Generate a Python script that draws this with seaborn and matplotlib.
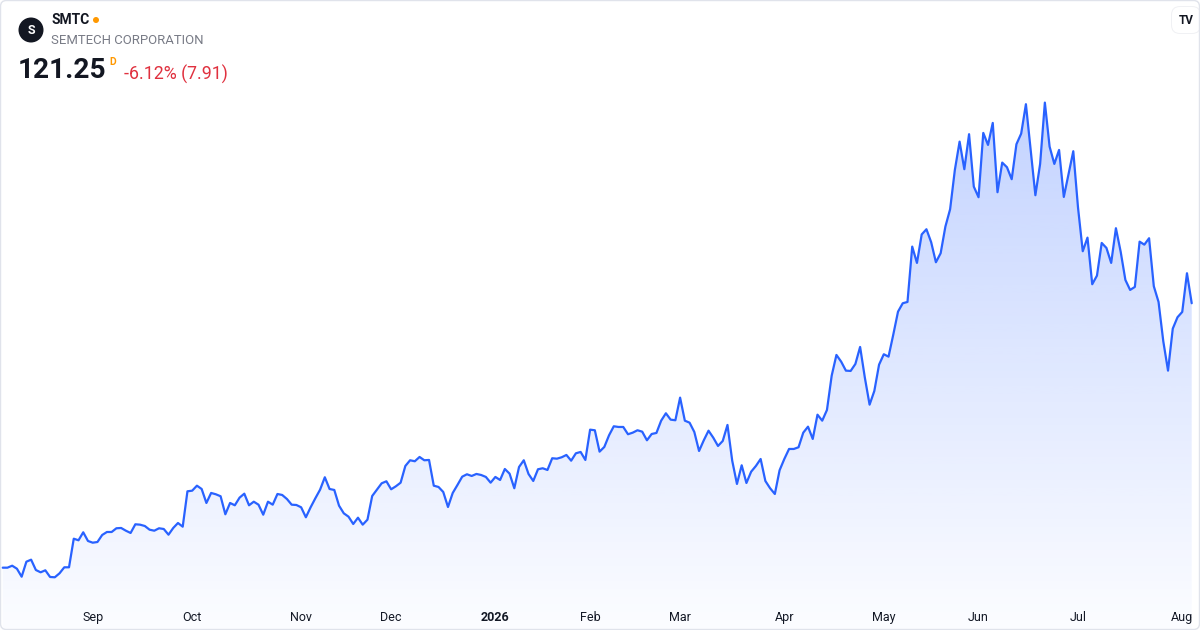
import numpy as np
import pandas as pd
import matplotlib.pyplot as plt
import seaborn as sns
from matplotlib.patches import Circle, FancyBboxPatch, Polygon
from matplotlib.transforms import IdentityTransform

# daily closes, 5 Aug 2025 -> 5 Aug 2026
closes = [
    51.53, 51.53, 52.05, 51.26, 49.15, 53.11, 53.64, 50.92, 50.31, 50.84,
    49.08, 49.00, 50.05, 51.63, 51.63, 59.17, 58.75, 60.86, 58.57, 58.12,
    58.30, 60.15, 60.94, 60.94, 61.92, 62.00, 61.28, 60.68, 62.97, 62.87,
    62.52, 61.55, 61.28, 61.92, 61.73, 60.23, 62.00, 63.31, 62.34, 71.67,
    71.83, 73.15, 72.28, 68.59, 71.23, 70.88, 70.36, 65.61, 68.59, 67.98,
    69.99, 71.04, 67.98, 68.93, 68.14, 65.50, 68.93, 68.14, 70.96, 70.70,
    69.64, 68.14, 68.06, 67.45, 64.82, 67.45, 69.83, 72.10, 75.37, 72.28,
    72.02, 67.88, 65.87, 64.98, 63.05, 64.71, 62.87, 64.19, 70.43, 72.10,
    73.78, 74.31, 72.20, 72.99, 73.94, 78.35, 79.85, 79.59, 80.72, 79.85,
    79.93, 73.15, 72.81, 71.49, 67.53, 71.23, 73.34, 75.52, 76.16, 75.71,
    76.24, 75.97, 75.45, 73.94, 75.45, 74.65, 77.55, 76.32, 72.47, 78.08,
    79.85, 76.24, 74.39, 77.48, 77.74, 77.29, 80.38, 80.27, 80.64, 81.25,
    79.74, 81.69, 82.04, 79.93, 87.92, 87.76, 82.12, 83.36, 86.44, 88.81,
    88.63, 88.63, 86.71, 87.13, 87.76, 87.39, 85.12, 86.78, 87.05, 90.29,
    92.24, 90.56, 90.40, 96.36, 90.29, 89.76, 87.31, 82.30, 85.12, 87.65,
    85.81, 83.62, 84.94, 89.16, 79.74, 73.60, 78.53, 73.86, 76.84, 78.35,
    80.19, 74.39, 72.47, 70.96, 77.21, 80.19, 82.83, 82.83, 83.28, 87.13,
    88.71, 85.47, 91.87, 90.29, 93.11, 102.16, 107.62, 105.85, 103.48, 103.40,
    105.24, 109.73, 101.63, 94.51, 98.12, 105.06, 107.80, 107.17, 112.97, 119.03,
    121.25, 121.59, 136.18, 131.88, 139.39, 140.76, 137.34, 132.06, 134.43, 141.45,
    146.04, 156.40, 163.86, 156.59, 165.82, 152.00, 149.20, 166.16, 162.99, 168.79,
    150.52, 158.33, 157.11, 153.95, 163.18, 165.97, 173.73, 161.67, 149.73, 157.98,
    174.15, 162.55, 157.98, 161.67, 149.28, 155.27, 161.33, 146.46, 134.96, 138.55,
    126.26, 128.53, 137.15, 135.83, 131.88, 141.03, 134.86, 127.39, 124.76, 125.55,
    137.49, 136.70, 138.39, 125.73, 121.59, 111.23, 103.48, 114.55, 117.56, 118.96,
    129.16, 121.25,
]
# US market holidays inside the window
holidays = ['2025-09-01', '2025-11-27', '2025-12-25', '2026-01-01', '2026-01-19',
            '2026-02-16', '2026-04-03', '2026-05-25', '2026-06-19', '2026-07-03']

ticker = 'SMTC'
company = 'SEMTECH CORPORATION'
last_price = '121.25'
change_text = '-6.12% (7.91)'

sns.set_style('white')
plt.rcParams['font.family'] = ['Roboto', 'DejaVu Sans']

dates = pd.bdate_range('2025-08-05', '2026-08-05', freq='C', holidays=holidays)
df = pd.DataFrame({'date': dates[:len(closes)], 'close': closes})
df['i'] = np.arange(len(df))

fig = plt.figure(figsize=(12, 6.3), dpi=100)
ax = fig.add_axes([0, 0, 1, 1])

ylo, yhi = 35.1, 201.2
xlo, xhi = -0.57, 252.75

# gradient fill under the line, clipped to the area polygon
top = df['close'].max()
rgba = np.zeros((256, 1, 4))
rgba[..., 0] = 41 / 255
rgba[..., 1] = 98 / 255
rgba[..., 2] = 1.0
rgba[:, 0, 3] = np.linspace(0.015, 0.28, 256)
im = ax.imshow(rgba, extent=[xlo, xhi, ylo, top], origin='lower', aspect='auto', zorder=1)
verts = [(df['i'].iloc[0], ylo)] + list(zip(df['i'], df['close'])) + [(df['i'].iloc[-1], ylo)]
area = Polygon(verts, closed=True, facecolor='none', edgecolor='none')
ax.add_patch(area)
im.set_clip_path(area)

sns.lineplot(data=df, x='i', y='close', color='#2962FF', linewidth=1.6, ax=ax, zorder=3)

ax.set_xlim(xlo, xhi)
ax.set_ylim(ylo, yhi)
ax.set_xlabel('')
ax.set_ylabel('')
for s in ax.spines.values():
    s.set_visible(False)
ax.set_yticks([])

# month ticks on first trading day of each month (skip the partial first month)
firsts = df.groupby(df['date'].dt.to_period('M'))['i'].min().iloc[1:]
labels = []
for per in firsts.index:
    labels.append(str(per.year) if per.month == 1 else per.strftime('%b'))
ax.set_xticks(firsts.values)
ax.set_xticklabels(labels)
ax.tick_params(axis='x', length=0, pad=-13.5, labelsize=9, labelcolor='#131722')
for t in ax.get_xticklabels():
    t.set_zorder(5)
    if t.get_text() == '2026':
        t.set_fontweight('bold')

# header
px = IdentityTransform()
H = 630
fig.add_artist(Circle((31, H - 30), 12.5, facecolor='#131722', edgecolor='none', transform=px))
fig.text(31, H - 30, 'S', transform=px, color='white', fontsize=9, fontweight='bold',
         ha='center', va='center')
fig.text(51, H - 20, ticker, transform=px, color='#131722', fontsize=10, fontweight='bold',
         va='center')
fig.add_artist(Circle((96, H - 20), 3, facecolor='#ff9800', edgecolor='none', transform=px))
fig.text(51, H - 40, company, transform=px, color='#787b86', fontsize=9.45, va='center')
fig.text(18, H - 71, last_price, transform=px, color='#131722', fontsize=20.2, fontweight='bold',
         va='center')
fig.text(109, H - 62, 'D', transform=px, color='#ff9800', fontsize=7.5, fontweight='bold',
         va='center')
fig.text(124, H - 74, change_text, transform=px, color='#e0313f', fontsize=12.8, va='center')

# TradingView badge
fig.add_artist(FancyBboxPatch((1171, H - 34), 30, 28, boxstyle='round,pad=0,rounding_size=9',
                              facecolor='#f0f1f4', edgecolor='none', transform=px))
fig.add_artist(FancyBboxPatch((1172, H - 33), 28, 26, boxstyle='round,pad=0,rounding_size=8',
                              facecolor='white', edgecolor='none', transform=px))
fig.text(1186, H - 20, 'TV', transform=px, color='#131722', fontsize=8.5, fontweight='bold',
         ha='center', va='center')

# outer frame
fig.add_artist(FancyBboxPatch((0.5, 0.5), 1199, 629, boxstyle='round,pad=0,rounding_size=6',
                              facecolor='none', edgecolor='#e0e3eb', lw=1, transform=px))

fig.savefig('out.png', dpi=100)
